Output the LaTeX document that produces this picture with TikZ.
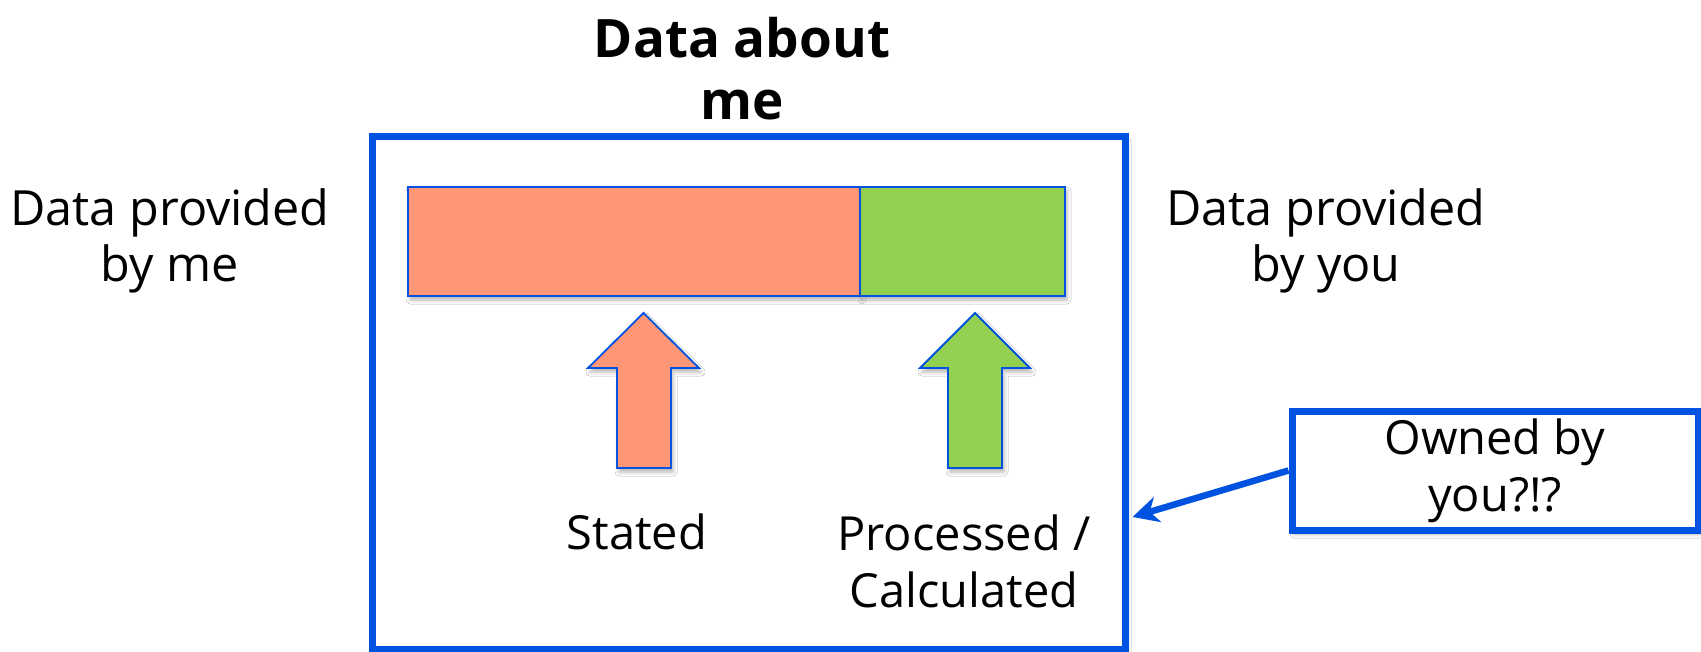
\documentclass[tikz,border=0pt]{standalone}
\usepackage{fontspec}
\setmainfont{Open Sans}
\usetikzlibrary{arrows.meta,calc,shadows.blur}
\definecolor{frameblue}{RGB}{0,82,224}
\definecolor{statedfill}{RGB}{255,150,117}
\definecolor{processedfill}{RGB}{146,208,80}

\begin{document}
\begin{tikzpicture}[x=1pt,y=-1pt,
  softshadow/.style={blur shadow={shadow xshift=2pt, shadow yshift=-4pt,
      shadow blur radius=4pt, shadow opacity=30}},
  frame/.style={rectangle, draw=frameblue, fill=white, line width=7pt,
      inner sep=0pt, softshadow},
  segment/.style={rectangle, draw=frameblue, line width=1.8pt, inner sep=0pt,
      minimum height=109pt, softshadow},
  upshape/.style={draw=frameblue, line width=1.8pt, line join=miter, softshadow},
  caption/.style={font=\fontsize{47}{57}\selectfont, align=center, inner sep=0pt},
  sidecaption/.style={caption, font=\fontsize{48.5}{56}\selectfont},
  heading/.style={font=\bfseries\fontsize{53}{62}\selectfont, align=center, inner sep=0pt},
  pointer/.style={draw=frameblue, line width=6.5pt,
      -{Stealth[length=26pt, width=26pt, inset=8pt]}}
]
% canvas
\fill[white] (0,0) rectangle (1701,652);
\useasboundingbox (0,0) rectangle (1701,652);

% outer frame and its title
\node[frame, minimum width=753pt, minimum height=512pt] (main) at (748.5,393) {};
\node[heading] (title) at (742,69) {Data about\\me};

% the data bar: stated part and processed part
\node[segment, fill=statedfill, minimum width=452pt] (statedbar) at (634,241.5) {};
\node[segment, fill=processedfill, minimum width=205pt] (processedbar) at (962.5,241.5) {};

% block arrows pointing up at the bar
\draw[upshape, fill=statedfill]
  (643.5,313) -- (699,368) -- (671,368) -- (671,468) -- (617,468)
  -- (617,368) -- (588,368) -- cycle;
\draw[upshape, fill=processedfill]
  (975,313) -- (1030,368) -- (1002,368) -- (1002,468) -- (948,468)
  -- (948,368) -- (920,368) -- cycle;

% captions
\node[sidecaption] (byme) at (170,241) {Data provided\\by me};
\node[sidecaption] (byyou) at (1326,241) {Data provided\\by you};
\node[caption] (stated) at (637,532) {Stated};
\node[caption] (processed) at (964,561) {Processed /\\Calculated};

% ownership question box and its pointer
\node[frame, caption, minimum width=406pt, minimum height=119pt] (owned)
  at (1495,470.5) {Owned by\\you?!?};
\coordinate (hit) at ($(main.east |- 0,517)+(4,0)$);
\draw[pointer] (owned.west) -- (hit);
\end{tikzpicture}
\end{document}
